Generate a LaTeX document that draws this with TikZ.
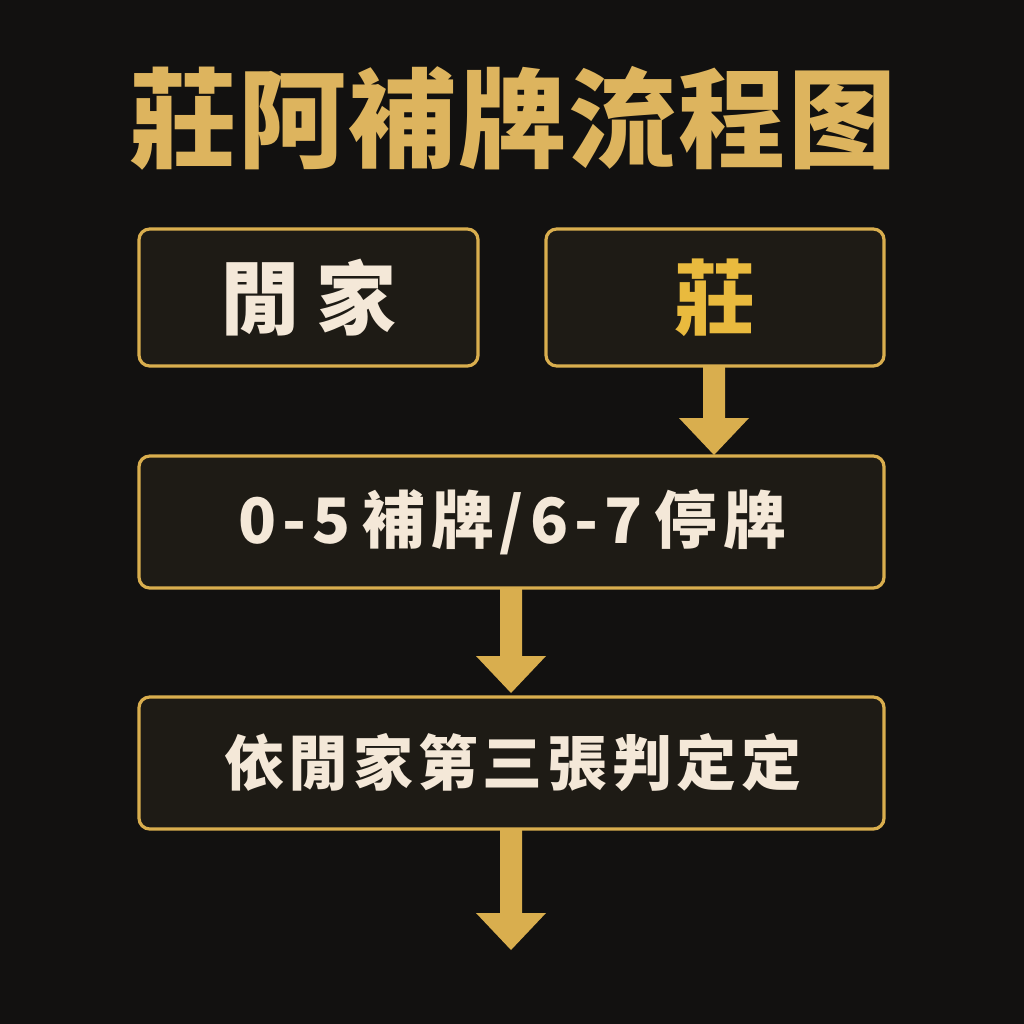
\documentclass[tikz,border=0pt]{standalone}
\usepackage{fontspec}
\newfontfamily\cjk{Noto Sans CJK TC}
\definecolor{bg}{HTML}{121110}
\definecolor{boxfill}{HTML}{1E1B15}
\definecolor{gold}{HTML}{D9AE4E}
\definecolor{goldtxt}{HTML}{E9BA3E}
\definecolor{titlegold}{HTML}{DDB45E}
\definecolor{cream}{HTML}{F4E8D8}
\tikzset{
  stepbox/.style={draw=gold, line width=2.4pt, fill=boxfill, rounded corners=8pt},
  bigarrow/.style={fill=gold, draw=none},
}
\newcommand\gs{\hspace{4.5pt}}
\newcommand\gt{\hspace{3.5pt}}
\begin{document}
\begin{tikzpicture}[x=0.75pt,y=-0.75pt]
\fill[bg] (0,0) rectangle (1024,1024);
\useasboundingbox (0,0) rectangle (1024,1024);
% title
\node (title) at (513,118) {\cjk\bfseries\fontsize{81}{81}\selectfont\color{titlegold}莊\hspace{1.5pt}阿\hspace{1.5pt}補\hspace{1.5pt}牌\hspace{1.5pt}流\hspace{1.5pt}程\hspace{1.5pt}图};
% boxes
\draw[stepbox] (139,229) rectangle (478,366);
\coordinate (xian) at (308.5,297.5);
\node (xiant) at (xian) {\cjk\bfseries\fontsize{60}{60}\selectfont\color{cream}閒\hspace{12pt}家};
\draw[stepbox] (546,229) rectangle (884,366);
\coordinate (zhuang) at (715,297.5);
\node (zhuangt) at (zhuang) {\cjk\bfseries\fontsize{61}{61}\selectfont\color{goldtxt}莊};
\draw[stepbox] (139,456) rectangle (884,588);
\node (rule) at (512,522) {\cjk\bfseries\fontsize{47}{47}\selectfont\color{cream}0\gs{}-\gs{}5\hspace{9pt}補\gs{}牌\gs{}/\gs{}6\gs{}-\gs{}7\hspace{9pt}停\gs{}牌};
\draw[stepbox] (139,697) rectangle (884,829);
\node (third) at (513,763) {\cjk\bfseries\fontsize{45}{45}\selectfont\color{cream}依\gt{}閒\gt{}家\gt{}第\gt{}三\gt{}張\gt{}判\gt{}定\gt{}定};
% arrows
\fill[bigarrow] (703,367) -- (725,367) -- (725,418) -- (749,418) -- (714,455) -- (679,418) -- (703,418) -- cycle;
\fill[bigarrow] (500,589) -- (522,589) -- (522,656) -- (546,656) -- (511,693) -- (476,656) -- (500,656) -- cycle;
\fill[bigarrow] (500,830) -- (522,830) -- (522,913) -- (546,913) -- (511,950) -- (476,913) -- (500,913) -- cycle;
\end{tikzpicture}
\end{document}
